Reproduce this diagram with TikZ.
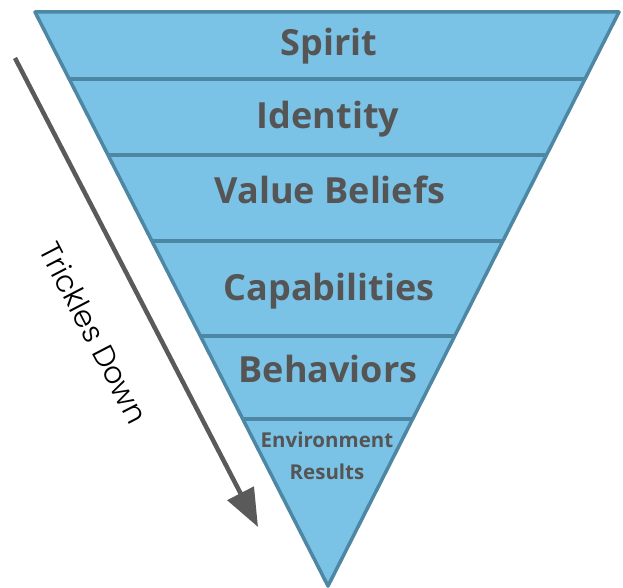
\documentclass[tikz,border=0pt]{standalone}
\usepackage{fontspec}
\setmainfont{Open Sans}
\newfontfamily\lightfont{Poppins Light}
\usetikzlibrary{arrows.meta}

\definecolor{layerfill}{HTML}{7BC3E6}
\definecolor{layerline}{HTML}{4D87A3}
\definecolor{labelgray}{HTML}{555555}
\definecolor{arrowgray}{HTML}{5A5A5A}

\begin{document}
\begin{tikzpicture}[x=1pt, y=-1pt]
    \tikzstyle{level} = [anchor=base, text=labelgray, font=\bfseries\fontsize{36}{38}\selectfont]
    \tikzstyle{smalllevel} = [anchor=base, text=labelgray, font=\bfseries\fontsize{20.5}{22}\selectfont]
    \tikzstyle{trickle} = [draw=arrowgray, line width=4.5pt, -{Triangle[length=38pt, width=29pt]}]

    \useasboundingbox (0,0) rectangle (623,588);

    % Inverted pyramid
    \coordinate (topleft) at (35,12);
    \coordinate (topright) at (619,12);
    \coordinate (apex) at (328,586);
    \fill [layerfill] (topleft) -- (topright) -- (apex) -- cycle;

    % Dividers between the levels
    \begin{scope}
        \clip (topleft) -- (topright) -- (apex) -- cycle;
        \foreach \y in {79,155,241,336,419}
            \draw [layerline, line width=4pt] (0,\y) -- (623,\y);
    \end{scope}
    \draw [layerline, line width=3.5pt, line join=round] (topleft) -- (topright) -- (apex) -- cycle;

    % Levels
    \node [level] (spirit) at (329,56) {Spirit};
    \node [level] (identity) at (328,129) {Identity};
    \node [level] (beliefs) at (330,203) {Value Beliefs};
    \node [level] (capabilities) at (329,300) {Capabilities};
    \node [level] (behaviors) at (328,382) {Behaviors};
    \node [smalllevel] (environment) at (327,447) {Environment};
    \node [smalllevel] (results) at (327,479) {Results};

    % Trickle down arrow
    \coordinate (start) at (15,58);
    \coordinate (finish) at (258,527);
    \draw [trickle] (start) -- (finish);
    \node [rotate=-62.6, font=\lightfont\fontsize{30}{32}\selectfont] (trickles) at (94,333) {Trickles Down};
\end{tikzpicture}
\end{document}
